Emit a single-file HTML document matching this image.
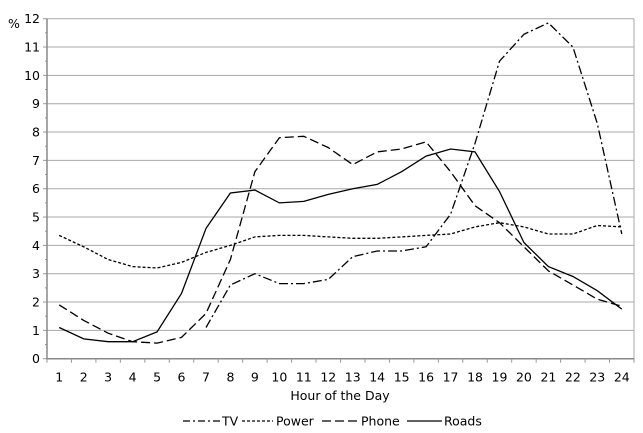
<!DOCTYPE html>
<html><head><style>body{margin:0;background:#fff}svg{display:block;font-family:"DejaVu Sans","Liberation Sans",sans-serif}</style></head>
<body>
<svg id="s" width="643" height="433" xmlns="http://www.w3.org/2000/svg"></svg>
<script>
var L=47,R=634,T=18.7,B=358.7,u=(B-T)/12,w=(R-L)/24;
var s='';
for(var i=0;i<=12;i++){var y=B-i*u;if(i>0)s+='<line x1="'+L+'" x2="'+R+'" y1="'+y+'" y2="'+y+'" stroke="#a8a8a8" stroke-width="1"/>';
s+='<line x1="'+(L-4)+'" x2="'+L+'" y1="'+y+'" y2="'+y+'" stroke="#999"/>';
if(i<12)s+='<line x1="'+(L-2)+'" x2="'+L+'" y1="'+(y-u/2)+'" y2="'+(y-u/2)+'" stroke="#999"/>';
s+='<text x="'+(L-7)+'" y="'+(y+4.5)+'" font-size="12.5" text-anchor="end">'+i+'</text>';}
s+='<text x="8" y="28" font-size="12.5">%</text>';
s+='<line x1="'+R+'" x2="'+R+'" y1="'+T+'" y2="'+B+'" stroke="#a8a8a8"/>';
s+='<line x1="'+L+'" x2="'+L+'" y1="'+T+'" y2="'+(B+1)+'" stroke="#888" stroke-width="1.5"/>';
s+='<line x1="'+L+'" x2="'+R+'" y1="'+B+'" y2="'+B+'" stroke="#888" stroke-width="1.5"/>';
for(var i=0;i<=24;i++){var x=L+i*w;s+='<line x1="'+x+'" x2="'+x+'" y1="'+B+'" y2="'+(B+4)+'" stroke="#999"/>';
if(i<24)s+='<text x="'+(x+w/2)+'" y="'+(B+23)+'" font-size="12.5" text-anchor="middle">'+(i+1)+'</text>';}
s+='<text x="340" y="400" font-size="12.5" text-anchor="middle">Hour of the Day</text>';
function line(d,st,off){var p=[];for(var i=0;i<d.length;i++){if(d[i]==null)continue;p.push((L+(i+0.5)*w).toFixed(1)+','+(B-d[i]*u).toFixed(1));}
return '<polyline points="'+p.join(' ')+'" fill="none" stroke="#000" stroke-width="1.3" stroke-dasharray="'+st+'"/>';}
var N=null;
var TV=[N,N,N,N,N,N,1.1,2.6,3.0,2.65,2.65,2.8,3.6,3.8,3.8,3.95,5.1,7.6,10.5,11.45,11.85,11.0,8.3,4.4];
var PW=[4.35,3.95,3.5,3.25,3.2,3.4,3.75,4.0,4.3,4.35,4.35,4.3,4.25,4.25,4.3,4.35,4.4,4.65,4.8,4.65,4.4,4.4,4.7,4.65];
var PH=[1.9,1.35,0.9,0.6,0.55,0.75,1.6,3.5,6.6,7.8,7.85,7.45,6.85,7.3,7.4,7.65,6.6,5.4,4.8,3.95,3.1,2.6,2.1,1.85];
var RD=[1.1,0.7,0.6,0.6,0.95,2.3,4.6,5.85,5.95,5.5,5.55,5.8,6.0,6.15,6.6,7.15,7.4,7.3,5.9,4.1,3.25,2.9,2.4,1.75];
s+=line(PW,'3,2');s+=line(PH,'9,4');s+=line(TV,'9,3,2,3');s+=line(RD,'none');
function leg(x1,x2,st,tx,lbl){return '<line x1="'+x1+'" x2="'+x2+'" y1="421" y2="421" stroke="#000" stroke-width="1.3" stroke-dasharray="'+st+'"/><text x="'+tx+'" y="425.5" font-size="12.5">'+lbl+'</text>';}
s+=leg(183,220,'7,3,2,3',222,'TV')+leg(242,273,'3,2',276,'Power')+leg(322,358,'9,4',361,'Phone')+leg(407,442,'none',444,'Roads');
document.getElementById('s').innerHTML=s;
</script>
</body></html>
